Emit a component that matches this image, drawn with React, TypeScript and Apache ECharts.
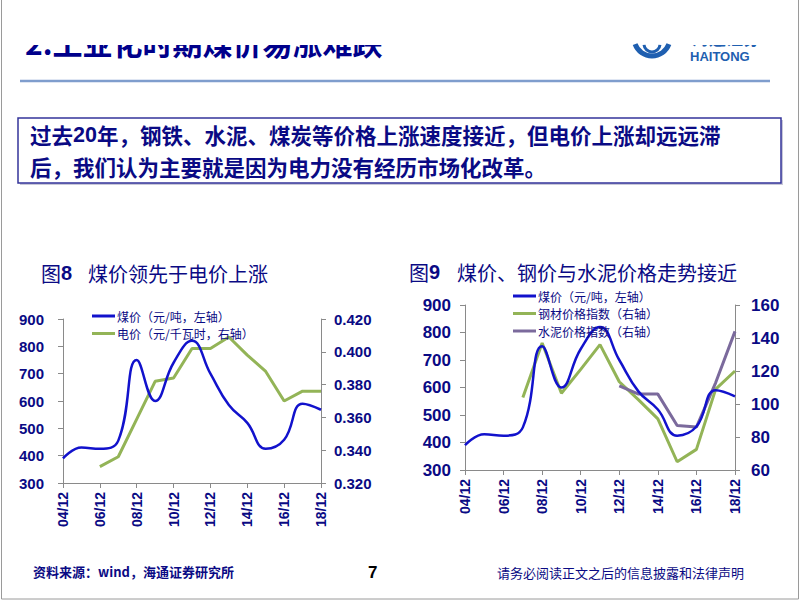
import React, { useEffect, useRef } from "react";
import * as echarts from "echarts";

const years = ["04/12","05/12","06/12","07/12","08/12","09/12","10/12","11/12","12/12","13/12","14/12","15/12","16/12","17/12","18/12"];
const coalPrice = [390, 430, 425, 455, 750, 600, 740, 820, 700, 585, 520, 425, 458, 590, 568];
const elecPrice = [null, null, 0.330, 0.336, 0.359, 0.382, 0.384, 0.402, 0.402, 0.409, 0.398, 0.388, 0.370, 0.376, 0.376];
const steelIndex = [null, null, null, 104, 137, 106.5, 121, 136, 113.5, 102.5, 91, 65, 72.5, 109, 120];
const cementIndex = [null, null, null, null, null, null, null, null, 111, 106, 106, 87, 86, 113, 144];

const leftTicks = { min: 300, max: 900, interval: 100 };
const elecTicks = { min: 0.32, max: 0.42, interval: 0.02 };
const indexTicks = { min: 60, max: 160, interval: 20 };

const COAL = "煤价（元/吨，左轴）";
const ELEC = "电价（元/千瓦时，右轴）";
const STEEL = "钢材价格指数（右轴）";
const CEMENT = "水泥价格指数（右轴）";

const NAVY = "#0a0a84";
const BLUE = "#1212cc";
const GREEN = "#93b457";
const PURPLE = "#7b6a9c";
const AXIS = "#8a8a8a";
const CJK = "'Noto Sans CJK SC', sans-serif";
const LAT = "'Liberation Sans', Arial, sans-serif";

function yAxis(grid: number, r: any, pos: string, margin: number, size: number, fmt?: (v: number) => string) {
  return {
    type: "value",
    gridIndex: grid,
    position: pos,
    min: r.min,
    max: r.max,
    interval: r.interval,
    splitLine: { show: false },
    axisLine: { show: true, lineStyle: { color: AXIS, width: 1 } },
    axisTick: { show: true, length: 5, lineStyle: { color: AXIS } },
    axisLabel: {
      margin,
      color: NAVY,
      fontSize: size,
      fontWeight: "bold",
      fontFamily: LAT,
      formatter: fmt,
    },
  };
}

function xAxis(grid: number) {
  return {
    type: "category",
    gridIndex: grid,
    data: years,
    boundaryGap: false,
    axisLine: { show: true, lineStyle: { color: AXIS, width: 1 } },
    axisTick: { show: true, interval: 1, length: 5, lineStyle: { color: AXIS } },
    axisLabel: {
      interval: 1,
      rotate: 90,
      margin: 9,
      color: NAVY,
      fontSize: 14,
      fontWeight: "bold",
      fontFamily: LAT,
    },
  };
}

function legend(left: number, top: number, names: string[]) {
  return {
    left,
    top,
    orient: "vertical",
    itemGap: 5.5,
    itemWidth: 23,
    itemHeight: 3,
    icon: "rect",
    padding: 0,
    selectedMode: false,
    data: names,
    textStyle: { fontSize: 12, color: NAVY, fontFamily: CJK, lineHeight: 12, padding: [0, 0, 0, -3] },
  };
}

export default function App() {
  const ref = useRef<HTMLDivElement>(null);
  useEffect(() => {
    if (!ref.current) return;
    const chart = echarts.init(ref.current, undefined, { renderer: "svg" });
    const option: any = {
      animation: false,
      backgroundColor: "#ffffff",
      grid: [
        { left: 63, top: 319, width: 258, height: 164 },
        { left: 465, top: 305, width: 270, height: 165 },
      ],
      xAxis: [xAxis(0), xAxis(1)],
      yAxis: [
        yAxis(0, leftTicks, "left", 19, 15),
        yAxis(0, elecTicks, "right", 13, 15, (v: number) => v.toFixed(3)),
        yAxis(1, leftTicks, "left", 14, 17),
        yAxis(1, indexTicks, "right", 16, 17),
      ],
      legend: [legend(92, 310, [COAL, ELEC]), legend(513, 290, [COAL, STEEL, CEMENT])],
      series: [
        { name: ELEC, type: "line", xAxisIndex: 0, yAxisIndex: 1, data: elecPrice, symbol: "none", lineStyle: { color: GREEN, width: 3 }, itemStyle: { color: GREEN } },
        { name: COAL, type: "line", xAxisIndex: 0, yAxisIndex: 0, data: coalPrice, smooth: 0.45, symbol: "none", lineStyle: { color: BLUE, width: 2.5 }, itemStyle: { color: BLUE } },
        { name: STEEL, type: "line", xAxisIndex: 1, yAxisIndex: 3, data: steelIndex, symbol: "none", lineStyle: { color: GREEN, width: 3 }, itemStyle: { color: GREEN } },
        { name: CEMENT, type: "line", xAxisIndex: 1, yAxisIndex: 3, data: cementIndex, symbol: "none", lineStyle: { color: PURPLE, width: 3 }, itemStyle: { color: PURPLE } },
        { name: COAL, type: "line", xAxisIndex: 1, yAxisIndex: 2, data: coalPrice, smooth: 0.45, symbol: "none", lineStyle: { color: BLUE, width: 2.5 }, itemStyle: { color: BLUE } },
      ],
      graphic: [
        // slide title (clipped at top like the reference)
        { type: "text", z: 10, style: { text: "2.工业化时期煤价易涨难跌", x: 25, y: 42, textVerticalAlign: "middle", font: `bold 30px ${CJK}`, fill: "#00008b" } },
        { type: "text", z: 10, style: { text: "海通证券", x: 692, y: 37, textVerticalAlign: "middle", font: `bold 17px ${CJK}`, fill: "#1f5fb0" } },
        { type: "rect", z: 11, shape: { x: 3, y: 0, width: 794, height: 45 }, style: { fill: "#ffffff" } },
        // logo
        { type: "arc", z: 12, shape: { cx: 652, cy: 38, r: 18, startAngle: 0.35, endAngle: Math.PI - 0.35 }, style: { stroke: "#1f5fb0", lineWidth: 5, fill: null } },
        { type: "arc", z: 12, shape: { cx: 652, cy: 44, r: 8, startAngle: 0.1, endAngle: Math.PI - 0.1 }, style: { stroke: "#1f5fb0", lineWidth: 3, fill: null } },
        { type: "text", z: 12, style: { text: "HAITONG", x: 690, y: 56, textVerticalAlign: "middle", font: `bold 13px ${LAT}`, fill: "#1f5fb0" } },
        { type: "line", z: 12, shape: { x1: 20, y1: 81, x2: 770, y2: 81 }, style: { stroke: "#7f9dcd", lineWidth: 2.5 } },
        // slide border
        { type: "rect", z: 12, shape: { x: 1.5, y: -2, width: 797, height: 601 }, style: { fill: null, stroke: "#9a9a9a", lineWidth: 1 } },
        // text box
        { type: "rect", z: 12, shape: { x: 20, y: 120, width: 763, height: 65 }, style: { fill: "#c8c8d8" } },
        { type: "rect", z: 12, shape: { x: 18, y: 118, width: 763, height: 65 }, style: { fill: "#ffffff", stroke: "#34349a", lineWidth: 1.5 } },
        { type: "text", z: 13, style: { text: "过去", x: 30, y: 134.5, textVerticalAlign: "middle", font: `bold 21.5px ${CJK}`, fill: NAVY } },
        { type: "text", z: 13, style: { text: "20", x: 73, y: 134.5, textVerticalAlign: "middle", font: `bold 21.5px ${LAT}`, fill: NAVY } },
        { type: "text", z: 13, style: { text: "年，钢铁、水泥、煤炭等价格上涨速度接近，但电价上涨却远远滞", x: 97, y: 134.5, textVerticalAlign: "middle", font: `bold 21.5px ${CJK}`, fill: NAVY } },
        { type: "text", z: 13, style: { text: "后，我们认为主要就是因为电力没有经历市场化改革。", x: 30, y: 166.5, textVerticalAlign: "middle", font: `bold 21.5px ${CJK}`, fill: NAVY } },
        // chart titles
        { type: "text", z: 13, style: { text: "图", x: 41, y: 273, textVerticalAlign: "middle", font: `20px ${CJK}`, fill: NAVY } },
        { type: "text", z: 13, style: { text: "8", x: 61, y: 273, textVerticalAlign: "middle", font: `bold 20px ${LAT}`, fill: NAVY } },
        { type: "text", z: 13, style: { text: "煤价领先于电价上涨", x: 88, y: 273, textVerticalAlign: "middle", font: `20px ${CJK}`, fill: NAVY } },
        { type: "text", z: 13, style: { text: "图", x: 409, y: 272, textVerticalAlign: "middle", font: `20px ${CJK}`, fill: NAVY } },
        { type: "text", z: 13, style: { text: "9", x: 429, y: 272, textVerticalAlign: "middle", font: `bold 20px ${LAT}`, fill: NAVY } },
        { type: "text", z: 13, style: { text: "煤价、钢价与水泥价格走势接近", x: 457, y: 272, textVerticalAlign: "middle", font: `20px ${CJK}`, fill: NAVY } },
        // footer
        { type: "text", z: 13, style: { text: "资料来源：wind，海通证券研究所", x: 33, y: 571, textVerticalAlign: "middle", font: `bold 13px ${CJK}`, fill: NAVY } },
        { type: "text", z: 13, style: { text: "7", x: 368, y: 572, textVerticalAlign: "middle", font: `bold 17px ${LAT}`, fill: "#000000" } },
        { type: "text", z: 13, style: { text: "请务必阅读正文之后的信息披露和法律声明", x: 497, y: 572, textVerticalAlign: "middle", font: `13px ${CJK}`, fill: NAVY } },
      ],
    };
    chart.setOption(option);
    return () => chart.dispose();
  }, []);
  return <div ref={ref} style={{ position: "fixed", left: 0, top: 0, width: 802, height: 602 }} />;
}
